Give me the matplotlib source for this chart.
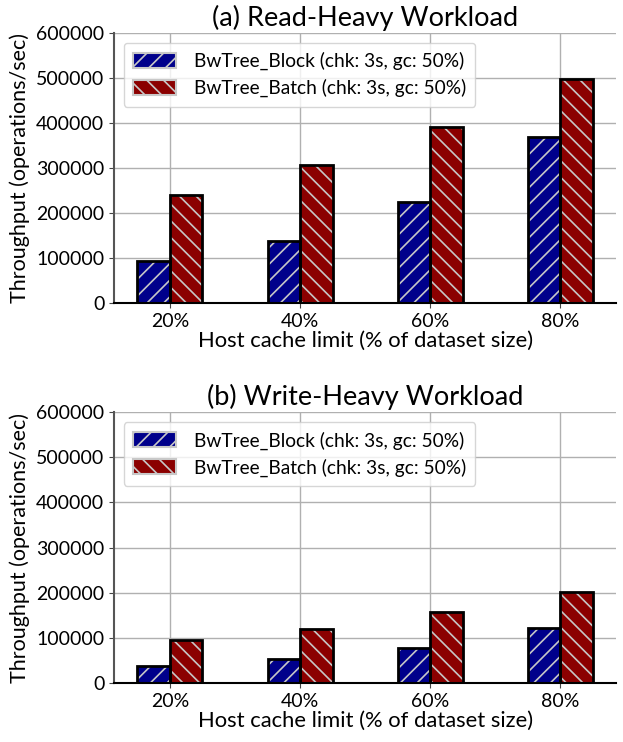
import matplotlib.pyplot as plt
import numpy as np

plt.rcParams['font.family'] = ['Lato', 'DejaVu Sans']
plt.rcParams['hatch.linewidth'] = 1.2

cache_limits = ['20%', '40%', '60%', '80%']
read_block = [94000, 138000, 224000, 368000]
read_batch = [241000, 306000, 390000, 498000]
write_block = [37000, 52500, 77000, 121000]
write_batch = [96000, 120000, 158000, 202000]

titles = ['(a) Read-Heavy Workload', '(b) Write-Heavy Workload']
label_block = 'BwTree_Block (chk: 3s, gc: 50%)'
label_batch = 'BwTree_Batch (chk: 3s, gc: 50%)'

fig = plt.figure(figsize=(6.23, 7.42), dpi=100)
ax1 = fig.add_axes([0.183, 0.5916, 0.806, 0.364])
ax2 = fig.add_axes([0.183, 0.0795, 0.806, 0.365])

x = np.arange(len(cache_limits))
w = 0.25

for ax, title, block, batch in [(ax1, titles[0], read_block, read_batch),
                                (ax2, titles[1], write_block, write_batch)]:
    # hatched fill with light hatch lines, then black outline on top
    ax.bar(x - w/2, block, w, color='darkblue', edgecolor='#c8c8c8',
           hatch='//', linewidth=0, label=label_block)
    ax.bar(x + w/2, batch, w, color='darkred', edgecolor='#c8c8c8',
           hatch='\\\\', linewidth=0, label=label_batch)
    ax.bar(x - w/2, block, w, fill=False, edgecolor='black', linewidth=2)
    ax.bar(x + w/2, batch, w, fill=False, edgecolor='black', linewidth=2)

    ax.set_xlim(-0.43, 3.43)
    ax.set_ylim(0, 600000)
    ax.set_yticks(range(0, 600001, 100000))
    ax.set_xticks(x)
    ax.set_xticklabels(cache_limits)
    ax.tick_params(labelsize=14, color='#444444')
    ax.grid(True, color='#b0b0b0', linewidth=1)
    ax.set_axisbelow(True)
    ax.spines['top'].set_visible(False)
    ax.spines['right'].set_visible(False)
    ax.spines['left'].set_color('#555555')
    ax.spines['left'].set_linewidth(1.5)
    ax.spines['bottom'].set_color('black')
    ax.spines['bottom'].set_linewidth(1.5)
    ax.set_title(title, fontsize=19.5, pad=5)
    ax.set_xlabel('Host cache limit (% of dataset size)', fontsize=15.8, labelpad=1)
    ax.set_ylabel('Throughput (operations/sec)', fontsize=15.5)
    leg = ax.legend(loc='upper left', fontsize=13.8, handlelength=2.25,
                    handleheight=0.8, handletextpad=0.9, borderpad=0.5,
                    labelspacing=0.45, borderaxespad=0.5)
    for p in leg.get_patches():
        p.set_linewidth(1.5)

fig.savefig('out.png', dpi=100)
